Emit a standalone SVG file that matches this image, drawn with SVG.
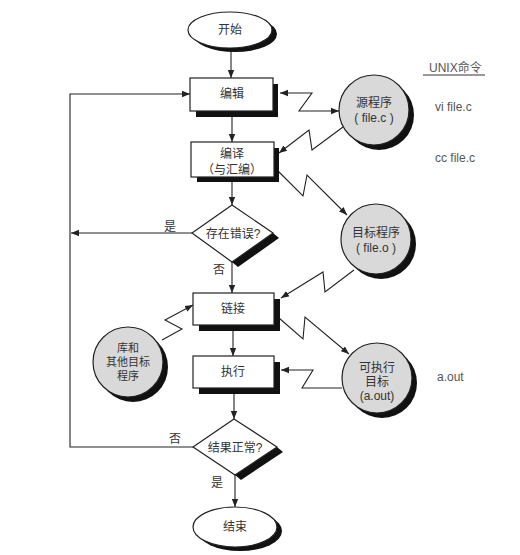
<svg xmlns="http://www.w3.org/2000/svg" width="520" height="555" viewBox="0 0 520 555">
<defs>
<marker id="ah" viewBox="0 0 10 10" refX="10" refY="5" markerWidth="8" markerHeight="8" markerUnits="userSpaceOnUse" orient="auto-start-reverse">
<path d="M0,1 L10,5 L0,9 z" fill="#222"/>
</marker>
</defs>
<style>
.t{font-family:"Liberation Sans","Noto Sans CJK SC",sans-serif;font-size:12px;fill:#333;text-anchor:middle;}
.s{font-size:11px;}
.n{font-family:"Liberation Sans","Noto Sans CJK SC",sans-serif;font-size:12px;fill:#555;}
.box{fill:#fff;stroke:#222;stroke-width:1.2;}
.sh{fill:#111;}
.circ{fill:#d9d9d9;stroke:#222;stroke-width:1.2;}
.ar{fill:none;stroke:#222;stroke-width:1.1;marker-end:url(#ah);}
.ar2{fill:none;stroke:#222;stroke-width:1.1;marker-end:url(#ah);marker-start:url(#ah);}
</style>
<rect width="520" height="555" fill="#fff"/>

<g id="connectors">
<line class="ar" x1="231" y1="48" x2="231" y2="78"/>
<line class="ar" x1="232" y1="111" x2="232" y2="142"/>
<line class="ar" x1="232" y1="177" x2="232" y2="205"/>
<line class="ar" x1="232" y1="262" x2="232" y2="293"/>
<line class="ar" x1="233" y1="325" x2="233" y2="356"/>
<line class="ar" x1="234" y1="388" x2="234" y2="419"/>
<line class="ar" x1="235" y1="475" x2="235" y2="507"/>
<line class="ar" x1="192" y1="233" x2="71" y2="233"/>
<polyline class="ar" points="193,447 70,447 70,94 190,94"/>
<polyline class="ar2" points="280,93 312,93 299,111 339,111"/>
<polyline class="ar" points="343,127 312,150 309,130 279,153"/>
<polyline class="ar" points="278,171 303,196 307,175 347,215"/>
<polyline class="ar" points="354,270 325,292 323,272 281,298"/>
<polyline class="ar" points="162,340 182,329 165,320 193,305"/>
<polyline class="ar" points="279,318 303,339 305,317 349,354"/>
<polyline class="ar" points="342,388 302,388 313,370 281,370"/>
</g>

<g id="start">
<ellipse class="sh" cx="235" cy="34" rx="42" ry="18"/>
<ellipse class="box" cx="230" cy="30" rx="42" ry="18"/>
<text class="t" x="230" y="34">开始</text>
</g>

<g id="edit">
<rect class="sh" x="196" y="84" width="82" height="33"/>
<rect class="box" x="190" y="78" width="83" height="33"/>
<text class="t" x="232" y="98">编辑</text>
</g>

<g id="compile">
<rect class="sh" x="197" y="148" width="82" height="34"/>
<rect class="box" x="191" y="142" width="83" height="35"/>
<text class="t" x="232" y="158">编译</text>
<text class="t" x="232" y="174">（与汇编）</text>
</g>

<g id="decision1">
<polygon class="sh" points="273,233 279,238 238,267 232,262"/>
<polygon class="box" points="232,205 273,233 232,262 192,233"/>
<text class="t" x="233" y="238">存在错误?</text>
</g>

<g id="link">
<rect class="sh" x="199" y="299" width="81" height="32"/>
<rect class="box" x="193" y="293" width="81" height="32"/>
<text class="t" x="233" y="313">链接</text>
</g>

<g id="execute">
<rect class="sh" x="199" y="362" width="81" height="32"/>
<rect class="box" x="193" y="356" width="81" height="32"/>
<text class="t" x="233" y="376">执行</text>
</g>

<g id="decision2">
<polygon class="sh" points="277,447 283,452 241,480 235,475"/>
<polygon class="box" points="234,419 277,447 235,475 193,447"/>
<text class="t" x="235" y="452">结果正常?</text>
</g>

<g id="end">
<ellipse class="sh" cx="240" cy="531" rx="42" ry="20"/>
<ellipse class="box" cx="235" cy="527" rx="42" ry="20"/>
<text class="t" x="235" y="531">结束</text>
</g>

<g id="source">
<circle class="sh" cx="379" cy="115" r="35"/>
<circle class="circ" cx="374" cy="110" r="35"/>
<text class="t" x="374" y="107">源程序</text>
<text class="t" x="374" y="122">( file.c )</text>
</g>

<g id="object">
<circle class="sh" cx="381" cy="244" r="35"/>
<circle class="circ" cx="376" cy="239" r="35"/>
<text class="t" x="376" y="237">目标程序</text>
<text class="t" x="376" y="252">( file.o )</text>
</g>

<g id="library">
<circle class="sh" cx="133" cy="367" r="35"/>
<circle class="circ" cx="128" cy="362" r="35"/>
<text class="t s" x="128" y="352">库和</text>
<text class="t s" x="128" y="366">其他目标</text>
<text class="t s" x="128" y="380">程序</text>
</g>

<g id="executable">
<circle class="sh" cx="382" cy="383" r="35"/>
<circle class="circ" cx="377" cy="378" r="35"/>
<text class="t" x="377" y="372">可执行</text>
<text class="t" x="377" y="386">目标</text>
<text class="t" x="377" y="400">(a.out)</text>
</g>

<g id="labels">
<text class="t" x="170" y="231">是</text>
<text class="t" x="219" y="274">否</text>
<text class="t" x="175" y="443">否</text>
<text class="t" x="217" y="487">是</text>
<text class="n" x="429" y="72">UNIX命令</text>
<line x1="423" y1="75" x2="485" y2="75" stroke="#333" stroke-width="1"/>
<text class="n" x="435" y="111">vi file.c</text>
<text class="n" x="435" y="162">cc file.c</text>
<text class="n" x="437" y="381">a.out</text>
</g>
</svg>
